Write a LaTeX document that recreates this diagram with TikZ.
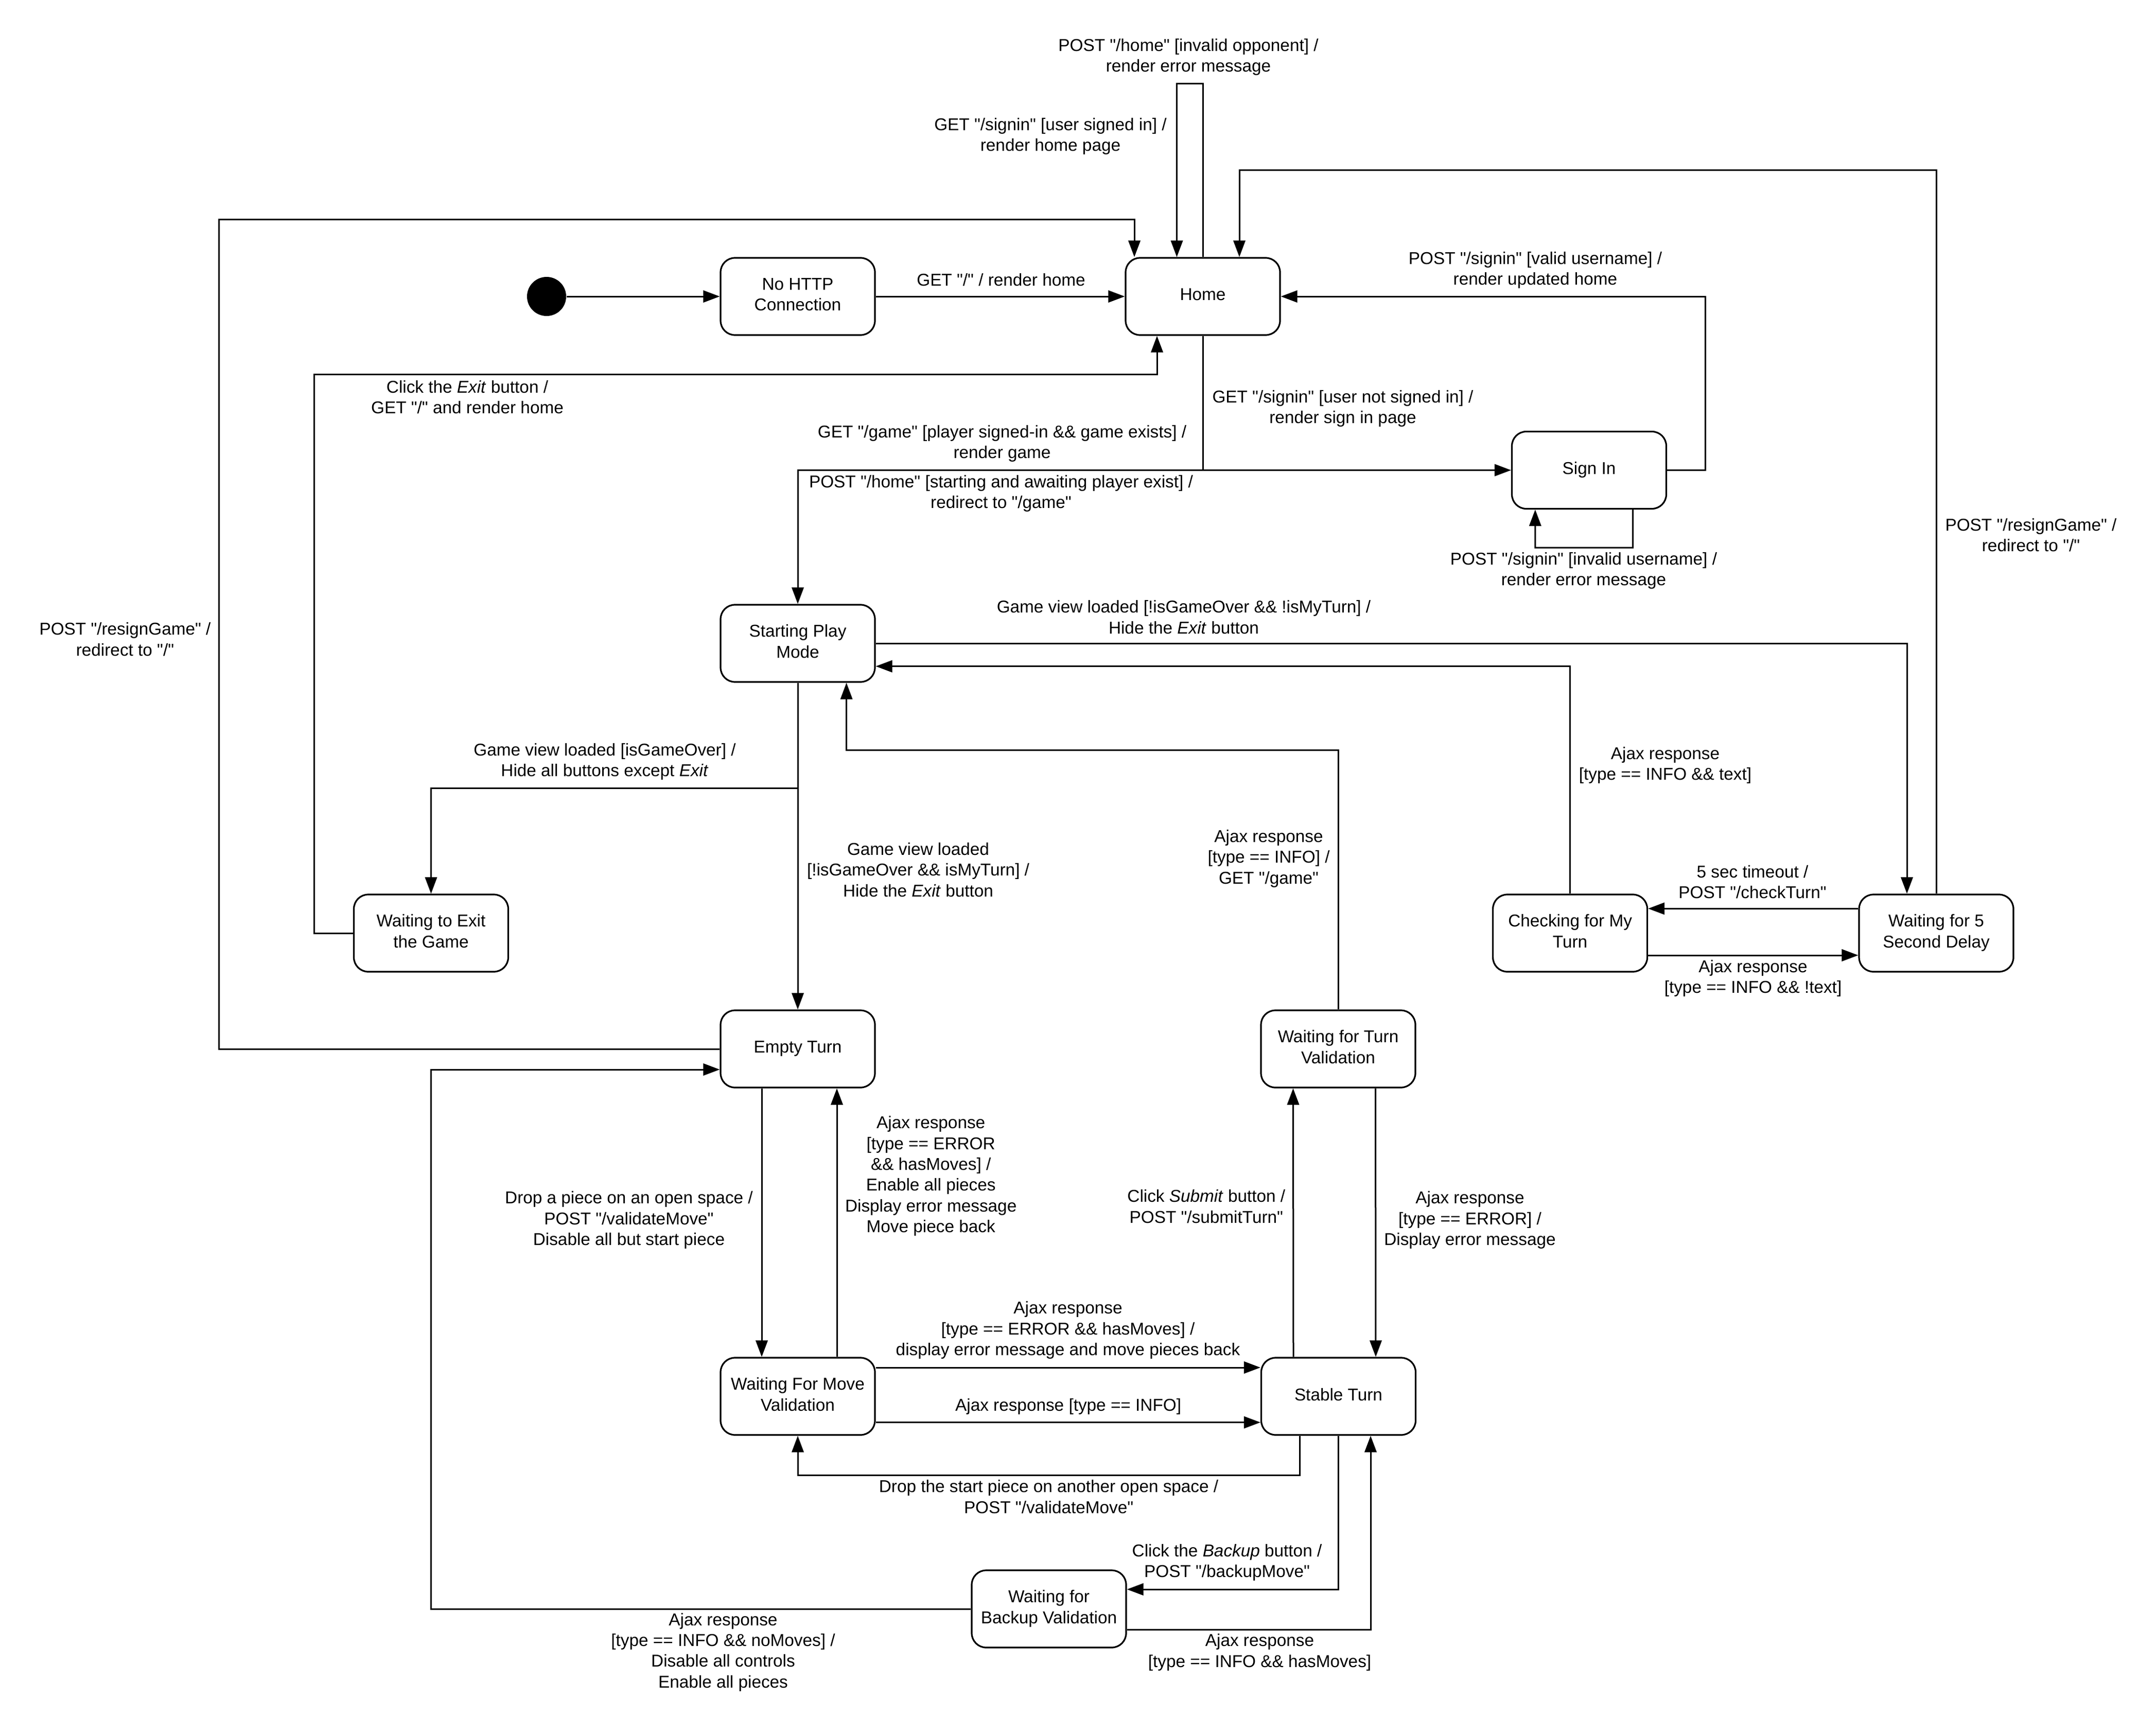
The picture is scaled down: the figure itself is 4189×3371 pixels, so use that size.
\documentclass[tikz,border=0pt]{standalone}
\usepackage{fontspec}
\setmainfont{Liberation Sans}[Ligatures=TeXOff]
\usetikzlibrary{arrows.meta,calc}
\begin{document}
\begin{tikzpicture}[x=0.25pt,y=-0.25pt,
  every node/.style={font=\fontsize{8.33}{10.1}\selectfont},
  state/.style={draw, line width=0.8pt, rounded corners=7pt, minimum width=75pt, minimum height=37.5pt, inner sep=0pt, align=center, execute at end node={\rule[-2pt]{0pt}{0pt}}},
  lbl/.style={align=center, inner sep=0pt},
  ln/.style={line width=0.75pt},
  arr/.style={ln, -{Triangle[length=8pt,width=5.8pt]}},
]
\useasboundingbox (0,0) rectangle (4189,3371);

% states
\node[circle, fill, minimum size=19pt, inner sep=0pt] (init) at (1062,576) {};
\node[state] (nohttp) at (1550,576) {No HTTP\\Connection};
\node[state] (home) at (2337,576) {Home};
\node[state] (signin) at (3087.5,913.5) {Sign In};
\node[state] (spm) at (1550,1250) {Starting Play\\Mode};
\node[state] (wexit) at (837.5,1813) {Waiting to Exit\\the Game};
\node[state] (check) at (3050.6,1813) {Checking for My\\Turn};
\node[state] (w5) at (3762,1813) {Waiting for 5\\Second Delay};
\node[state] (empty) at (1550,2038) {Empty Turn};
\node[state] (wtv) at (2600,2038) {Waiting for Turn\\Validation};
\node[state] (wmv) at (1550,2713) {Waiting For Move\\Validation};
\node[state] (stable) at (2600.5,2713) {Stable Turn};
\node[state] (backup) at (2038,3126) {Waiting for\\Backup Validation};

% junctions
\coordinate (j1) at (home.south |- signin.west);
\coordinate (j2) at (1550,1531.5);

% connectors
\draw[arr] (init) -- (nohttp);
\draw[arr] (nohttp) -- (home);
\draw[arr] (home.north) |- (2286.5,163) -- ($(home.north)+(-50.5,0)$);
\draw[arr] (empty.west) -| (425,426) -| ($(home.north)+(-133,0)$);
\draw[arr] (wexit.west) -| (610.7,727) -| ($(home.south)+(-89,0)$);
\draw[ln] (home.south) -- (j1);
\draw[arr] (j1) -- (signin.west);
\draw[arr] (j1) -| (spm.north);
\draw[arr] (signin.east) -| (3313.7,576) -- (home.east);
\draw[arr] ($(signin.south)+(85,0)$) |- (2982.8,1064) -- ($(signin.south)+(-104.7,0)$);
\draw[arr] (w5.north) |- (2408,330.6) -- ($(home.north)+(71,0)$);
\draw[arr] (spm.east) -| ($(w5.north)+(-57,0)$);
\draw[arr] (check.north) |- ($(spm.east)+(0,44.6)$);
\draw[ln] (spm.south) -- (j2);
\draw[arr] (j2) -| (wexit.north);
\draw[arr] (spm.south) -- (empty.north);
\draw[arr] (wtv.north) |- (1644.6,1457) -- ($(spm.south)+(94.6,0)$);
\draw[arr] ($(w5.west)+(0,-47.7)$) -- ($(check.east)+(0,-47.7)$);
\draw[arr] ($(check.east)+(0,43)$) -- ($(w5.west)+(0,43)$);
\draw[arr] ($(empty.south)+(-70,0)$) -- ($(wmv.north)+(-70,0)$);
\draw[arr] ($(wmv.north)+(76,0)$) -- ($(empty.south)+(76,0)$);
\draw[arr] ($(stable.north)+(-87.5,0)$) -- ($(wtv.south)+(-87.5,0)$);
\draw[arr] ($(wtv.south)+(72.5,0)$) -- ($(stable.north)+(72.5,0)$);
\draw[arr] ($(wmv.east)+(0,-56)$) -- ($(stable.west)+(0,-56)$);
\draw[arr] ($(wmv.east)+(0,50.6)$) -- ($(stable.west)+(0,50.6)$);
\draw[arr] ($(stable.south)+(-75,0)$) |- ($(wmv.south)+(0,77)$) -- (wmv.south);
\draw[arr] (stable.south) |- ($(backup.east)+(0,-38)$);
\draw[arr] ($(backup.east)+(0,40)$) -| ($(stable.south)+(62.5,0)$);
\draw[arr] (backup.west) -| (837.5,2078) -- ($(empty.west)+(0,40)$);

% labels
\node[lbl] (lGetRoot) at (1945,544) {GET "/" / render home};
\node[lbl] (lInvalidOpp) at (2309,111) {POST "/home" [invalid opponent] /\\render error message};
\node[lbl] (lSignedIn) at (2041,265) {GET "/signin" [user signed in] /\\render home page};
\node[lbl] (lValidUser) at (2983,525) {POST "/signin" [valid username] /\\render updated home};
\node[lbl] (lNotSigned) at (2609,794) {GET "/signin" [user not signed in] /\\render sign in page};
\node[lbl] (lExit) at (908,771.5) {Click the \textit{Exit} button /\\GET "/" and render home};
\node[lbl] (lGame) at (1947,862) {GET "/game" [player signed-in \&\& game exists] /\\render game};
\node[lbl] (lPostHome) at (1945,959) {POST "/home" [starting and awaiting player exist] /\\redirect to "/game"};
\node[lbl] (lInvalidUser) at (3077,1109) {POST "/signin" [invalid username] /\\render error message};
\node[lbl] (lResignR) at (3946,1039.5) {POST "/resignGame" /\\redirect to "/"};
\node[lbl] (lResignL) at (243,1242) {POST "/resignGame" /\\redirect to "/"};
\node[lbl] (lNotOverNotMy) at (2300,1199) {Game view loaded [!isGameOver \&\& !isMyTurn] /\\Hide the \textit{Exit} button};
\node[lbl] (lGameOver) at (1175,1480) {Game view loaded [isGameOver] /\\Hide all buttons except \textit{Exit}};
\node[lbl] (lAjaxText) at (3235.5,1487) {Ajax response\\{}[type == INFO \&\& text]};
\node[lbl] (lNotOverMy) at (1784,1690) {Game view loaded\\{}[!isGameOver \&\& isMyTurn] /\\Hide the \textit{Exit} button};
\node[lbl] (lAjaxInfoGame) at (2465,1668) {Ajax response\\{}[type == INFO] /\\GET "/game"};
\node[lbl] (lTimeout) at (3405,1713.5) {5 sec timeout /\\POST "/checkTurn"};
\node[lbl] (lNotText) at (3406,1901) {Ajax response\\{}[type == INFO \&\& !text]};
\node[lbl] (lDrop) at (1222,2370.5) {Drop a piece on an open space /\\POST "/validateMove"\\Disable all but start piece};
\node[lbl] (lErrMove) at (1808.7,2285) {Ajax response\\{}[type == ERROR\\\&\& hasMoves] /\\Enable all pieces\\Display error message\\Move piece back};
\node[lbl] (lSubmit) at (2343.8,2344) {Click \textit{Submit} button /\\POST "/submitTurn"};
\node[lbl] (lErrDisp) at (2856,2370.5) {Ajax response\\{}[type == ERROR] /\\Display error message};
\node[lbl] (lErrHas) at (2075,2584.5) {Ajax response\\{}[type == ERROR \&\& hasMoves] /\\display error message and move pieces back};
\node[lbl] (lInfo) at (2075.6,2732.5) {Ajax response [type == INFO]};
\node[lbl] (lDropStart) at (2037.6,2908) {Drop the start piece on another open space /\\POST "/validateMove"};
\node[lbl] (lBackup) at (2384,3036) {Click the \textit{Backup} button /\\POST "/backupMove"};
\node[lbl] (lHasMoves) at (2447.5,3210.5) {Ajax response\\{}[type == INFO \&\& hasMoves]};
\node[lbl] (lNoMoves) at (1405,3210) {Ajax response\\{}[type == INFO \&\& noMoves] /\\Disable all controls\\Enable all pieces};
\end{tikzpicture}
\end{document}
